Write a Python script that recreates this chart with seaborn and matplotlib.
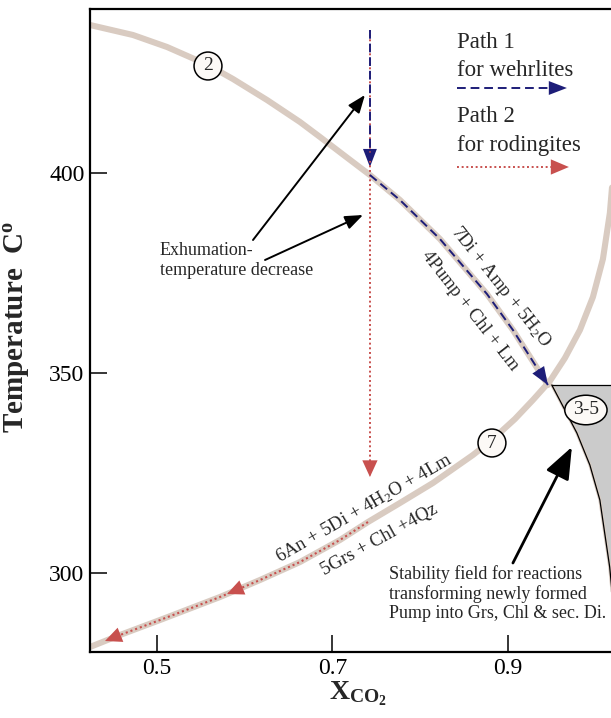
import matplotlib
matplotlib.use("Agg")
import matplotlib.pyplot as plt
import seaborn as sns

# reaction curve (2): Amp + Pump -> Di
curve2_x = [0.4236, 0.4726, 0.5114, 0.5581, 0.5866, 0.6254, 0.6630, 0.6858, 0.7142,
            0.7427, 0.7769, 0.8225, 0.8761, 0.9057, 0.9456]
curve2_y = [437.0, 434.5, 431.5, 427.0, 423.5, 418.25, 412.75, 409.0, 404.25,
            399.5, 393.25, 383.5, 369.75, 360.75, 347.0]

# continuation of (2) bounding the grey stability field
field_x = [0.9500, 0.9590, 0.9786, 0.9934, 1.0048, 1.0160, 1.0197]
field_y = [347.0, 343.25, 335.0, 327.0, 318.25, 301.5, 293.0]
field_top = 347.0

# reaction curve (7)
curve7_x = [0.4236, 0.4578, 0.5034, 0.5718, 0.6174, 0.6630, 0.7085, 0.7405, 0.7769,
            0.8145, 0.8601, 0.8818, 0.9080, 0.9285, 0.9479, 0.9650, 0.9821, 0.9969,
            1.0083, 1.0162, 1.0208]
curve7_y = [281.5, 284.5, 288.25, 294.0, 298.25, 302.75, 308.25, 312.75, 317.5,
            322.5, 329.5, 333.25, 338.5, 343.25, 348.0, 353.75, 360.75, 369.0,
            378.5, 390.0, 402.0]

# exhumation paths
path_x0 = 0.7427
path_top = 435.75
path1_x = curve2_x[9:]
path1_y = curve2_y[9:]
path2_stop = 324.0
path2_x = [0.7405, 0.7085, 0.6630, 0.6174, 0.5718, 0.5034, 0.4578, 0.4407]
path2_y = [312.75, 308.25, 302.75, 298.25, 294.0, 288.25, 284.5, 283.0]

x_ticks = [0.5, 0.7, 0.9]
y_ticks = [300, 350, 400]

beige = "#d9cbc1"
navy = "#1d1d78"
red = "#c8504e"

sns.set_style("ticks")
plt.rcParams["font.family"] = ["Liberation Serif", "DejaVu Serif"]
plt.rcParams["mathtext.fontset"] = "custom"
plt.rcParams["mathtext.rm"] = "Liberation Serif"
plt.rcParams["mathtext.it"] = "Liberation Serif:italic"
plt.rcParams["mathtext.bf"] = "Liberation Serif:bold"

fig = plt.figure(figsize=(6.11, 7.18), dpi=100)
ax = fig.add_axes([90 / 611, 66 / 718, 521 / 611, 643 / 718])


def head(tip, tail, color, size=10, hl=1.1, hw=0.45):
    ax.annotate("", xy=tip, xytext=tail,
                arrowprops=dict(arrowstyle=f"-|>,head_length={hl},head_width={hw}",
                                color=color, lw=0, shrinkA=0, shrinkB=0,
                                mutation_scale=size))


# grey field
ax.fill_betweenx(field_y, field_x, [1.1] * len(field_x), color="#cbcbcb", lw=0, zorder=1)
sns.lineplot(x=field_x, y=field_y, sort=False, estimator=None, color=beige, lw=2.2, ax=ax, zorder=2)
sns.lineplot(x=field_x, y=field_y, sort=False, estimator=None, color="black", lw=0.9, ax=ax, zorder=3)
ax.plot([field_x[0], 1.1], [field_top, field_top], color="black", lw=0.9, zorder=3)

# reaction curves
sns.lineplot(x=curve2_x, y=curve2_y, sort=False, estimator=None, color=beige, lw=4.4, ax=ax, zorder=2)
sns.lineplot(x=curve7_x, y=curve7_y, sort=False, estimator=None, color=beige, lw=4.4, ax=ax, zorder=2)

# path 2 (red dotted)
ax.plot([path_x0, path_x0], [path_top, path2_stop], color=red, lw=1.4, ls=(0, (1, 1.4)), zorder=4)
head((path_x0, path2_stop), (path_x0, path2_stop + 5), red, size=10, hl=1.2, hw=0.55)
sns.lineplot(x=path2_x, y=path2_y, sort=False, estimator=None, color=red, lw=1.5,
             linestyle=(0, (1, 1.4)), ax=ax, zorder=4)
head((0.5798, 294.75), (path2_x[3], path2_y[3]), red, size=10, hl=1.2, hw=0.55)
head((path2_x[-1], path2_y[-1]), (path2_x[-2], path2_y[-2]), red, size=10, hl=1.2, hw=0.55)

# path 1 (blue dashed)
ax.plot([path_x0, path_x0], [path_top, 403.0], color=navy, lw=1.4, ls=(0, (4.5, 2.5)), zorder=5)
head((path_x0, 401.5), (path_x0, 406), navy, size=10, hl=1.3, hw=0.5)
sns.lineplot(x=path1_x, y=path1_y, sort=False, estimator=None, color=navy, lw=1.4,
             linestyle=(0, (4.5, 2.5)), ax=ax, zorder=5)
head((path1_x[-1], path1_y[-1]), (path1_x[-2], path1_y[-2]), navy, size=10, hl=1.3, hw=0.5)

# legend
ax.text(0.8419, 432.75, "Path 1", fontsize=16.5, ha="left", va="center")
ax.text(0.8419, 425.75, "for wehrlites", fontsize=16.5, ha="left", va="center")
ax.plot([0.8419, 0.955], [421.25, 421.25], color=navy, lw=1.4, ls=(0, (4.5, 2.5)))
head((0.9672, 421.25), (0.94, 421.25), navy, size=10, hl=1.3, hw=0.5)
ax.text(0.8419, 414.0, "Path 2", fontsize=16.5, ha="left", va="center")
ax.text(0.8419, 407.0, "for rodingites", fontsize=16.5, ha="left", va="center")
ax.plot([0.8419, 0.955], [401.5, 401.5], color=red, lw=1.4, ls=(0, (1, 1.4)))
head((0.9695, 401.5), (0.94, 401.5), red, size=10, hl=1.3, hw=0.55)

# curve labels
circ = dict(boxstyle="circle,pad=0.28", fc="#fcf9f6", ec="black", lw=1.1)
ax.text(0.5581, 426.75, "2", fontsize=14, ha="center", va="center", bbox=circ, zorder=6)
ax.text(0.8818, 332.5, "7", fontsize=14, ha="center", va="center", bbox=circ, zorder=6)
ax.text(0.9889, 340.75, "3-5", fontsize=14, ha="center", va="center", zorder=6,
        bbox=dict(boxstyle="ellipse,pad=0.1", fc="#fcf9f6", ec="black", lw=1.1))

# reactions
ax.text(0.8918, 371.5, "7Di + Amp + 5H$_2$O", fontsize=13.5, rotation=-51.5,
        rotation_mode="anchor", ha="center", va="center")
ax.text(0.8567, 365.5, "4Pump + Chl + Lm", fontsize=13.5, rotation=-52,
        rotation_mode="anchor", ha="center", va="center")
ax.text(0.7359, 316.1, "6An + 5Di + 4H$_2$O + 4Lm", fontsize=13.5, rotation=30,
        rotation_mode="anchor", ha="center", va="center")
ax.text(0.7541, 308.25, "5Grs + Chl +4Qz", fontsize=13.5, rotation=29,
        rotation_mode="anchor", ha="center", va="center")

# annotations
ax.text(0.5034, 378.1, "Exhumation-\ntemperature decrease", fontsize=13, ha="left",
        va="center", linespacing=1.25)
black_arrow = dict(arrowstyle="-|>,head_length=0.9,head_width=0.35", color="black",
                   lw=1.4, shrinkA=0, shrinkB=0, mutation_scale=12)
ax.annotate("", xy=(0.737, 419.5), xytext=(0.6094, 383.25), arrowprops=black_arrow)
ax.annotate("", xy=(0.7348, 389.5), xytext=(0.6231, 378.25), arrowprops=black_arrow)

ax.text(0.7644, 294.75, "Stability field for reactions\ntransforming newly formed\n"
        "Pump into Grs, Chl & sec. Di.", fontsize=13, ha="left", va="center",
        linespacing=1.15)
ax.annotate("", xy=(0.9729, 331.5), xytext=(0.9057, 302.5),
            arrowprops=dict(arrowstyle="-|>,head_length=1.4,head_width=0.55",
                            color="black", lw=2.0, shrinkA=0, shrinkB=0,
                            mutation_scale=14))

# axes
ax.set_xlim(0.4236, 1.0175)
ax.set_ylim(280.25, 441.0)
ax.set_xticks(x_ticks)
ax.set_xticklabels([f"{v:.1f}" for v in x_ticks])
ax.set_yticks(y_ticks)
ax.set_yticklabels([str(v) for v in y_ticks])
ax.tick_params(direction="in", length=12, width=1.1, labelsize=17, pad=4, colors="black")
for side in ["left", "bottom", "top"]:
    ax.spines[side].set_linewidth(1.6)
    ax.spines[side].set_color("black")
ax.spines["right"].set_visible(False)

ax.set_ylabel("Temperature  C$^{\\mathbf{o}}$", fontsize=21, fontweight="bold")
ax.yaxis.set_label_coords(-0.111, 0.505)
ax.set_xlabel("$\\mathbf{X}_{\\mathbf{CO_2}}$", fontsize=20)
ax.xaxis.set_label_coords(0.514, -0.042)

fig.savefig("out.png", dpi=100)
